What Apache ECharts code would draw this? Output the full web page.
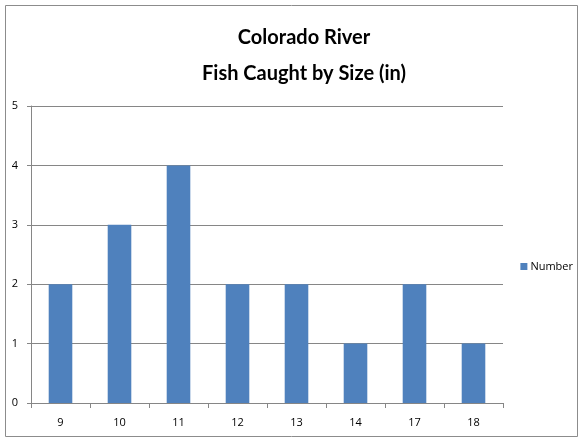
<!DOCTYPE html>
<html><head><meta charset="utf-8">
<script src="https://cdn.jsdelivr.net/npm/echarts@6/dist/echarts.min.js"></script>
<style>html,body{margin:0;padding:0;background:#fff}#c{width:584px;height:440px}</style>
</head><body><div id="c"></div>
<script>
const categories = ['9','10','11','12','13','14','17','18'];
const numberValues = [2,3,4,2,2,1,2,1];
const seriesName = 'Number';
const titleText = 'Colorado River\nFish Caught by Size (in)';

const chart = echarts.init(document.getElementById('c'), null, {renderer:'canvas'});
chart.setOption({
  animation:false,
  backgroundColor:'#fff',
  graphic:[{type:'rect',shape:{x:5.5,y:5.5,width:572,height:431},style:{fill:'none',stroke:'#8c8c8c',lineWidth:1}}],
  title:{text:titleText,left:299,textAlign:'center',top:15,
    textStyle:{fontFamily:'Lato',fontWeight:'bold',fontSize:20,lineHeight:36,color:'#000'}},
  legend:{data:[seriesName],right:6,top:256,orient:'vertical',icon:'rect',itemWidth:7,itemHeight:7,itemGap:4,
    textStyle:{fontFamily:'Open Sans',fontSize:11,color:'#000',padding:[0,0,0,-2]}},
  grid:{left:31,right:81,top:106,bottom:37,containLabel:false},
  xAxis:{type:'category',data:categories,
    axisLine:{lineStyle:{color:'#868686'}},
    axisTick:{show:true,length:5,lineStyle:{color:'#868686'}},
    axisLabel:{fontFamily:'Open Sans',fontSize:11,color:'#000',margin:14}},
  yAxis:{type:'value',min:0,max:5,interval:1,
    axisLine:{show:true,lineStyle:{color:'#868686'}},
    axisTick:{show:true,length:4,lineStyle:{color:'#868686'}},
    splitLine:{lineStyle:{color:'#868686'}},
    axisLabel:{fontFamily:'Open Sans',fontSize:11,color:'#000',margin:13}},
  series:[{name:seriesName,type:'bar',data:numberValues,barWidth:'40%',itemStyle:{color:'#4F81BD'}}]
});
</script></body></html>
